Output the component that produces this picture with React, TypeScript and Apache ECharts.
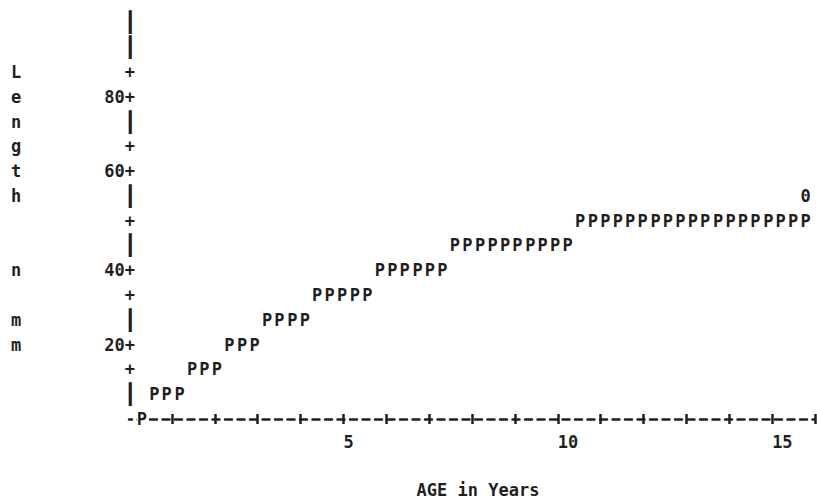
import { useEffect, useRef } from "react";
import * as echarts from "echarts";

// Printer-plot vertical resolution: one text row = 6.25 mm of length.
const ROW_MM = 6.25;

// Predicted length (mm) at age (years), one "P" per print column.
const ages = [
  0.3, 0.59, 0.88, 1.18, 1.47, 1.76, 2.05, 2.34, 2.64, 2.93, 3.22, 3.51, 3.81, 4.1,
  4.39, 4.68, 4.97, 5.27, 5.56, 5.85, 6.14, 6.43, 6.73, 7.02, 7.31, 7.6, 7.89, 8.19,
  8.48, 8.77, 9.06, 9.36, 9.65, 9.94, 10.23, 10.52, 10.82, 11.11, 11.4, 11.69, 11.98,
  12.28, 12.57, 12.86, 13.15, 13.44, 13.74, 14.03, 14.32, 14.61, 14.91, 15.2, 15.49,
  15.78,
];
const lengths = [
  0,
  6.25, 6.25, 6.25,
  12.5, 12.5, 12.5,
  18.75, 18.75, 18.75,
  25, 25, 25, 25,
  31.25, 31.25, 31.25, 31.25, 31.25,
  37.5, 37.5, 37.5, 37.5, 37.5, 37.5,
  43.75, 43.75, 43.75, 43.75, 43.75, 43.75, 43.75, 43.75, 43.75, 43.75,
  50, 50, 50, 50, 50, 50, 50, 50, 50, 50, 50, 50, 50, 50, 50, 50, 50, 50, 50,
];

// Observed value plotted with "0".
const obsAges = [15.78];
const obsLengths = [56.25];

// Axis ticks and labels.
const xTickValues = [1, 2, 3, 4, 5, 6, 7, 8, 9, 10, 11, 12, 13, 14, 15, 16];
const xLabelValues = [5, 10, 15];
const yTickValues = [10, 20, 30, 40, 50, 60, 70, 80, 90];
const yLabelValues = [20, 40, 60, 80];
const Y_TOP_ROW = 16;

// Vertical axis title, one character per row from the top row down.
const yTitleChars = ["L", "e", "n", "g", "t", "h", "", "", "n", "", "m", "m"];
const Y_TITLE_TOP_ROW = 14;

const X_TITLE = "AGE in Years";

const FONT = "'DejaVu Sans Mono', 'Liberation Mono', monospace";
const INK = "#1f1f1f";

export default function App() {
  const ref = useRef<HTMLDivElement>(null);

  useEffect(() => {
    if (!ref.current) return;
    const chart = echarts.init(ref.current, null, { renderer: "svg" });

    const base = { fontFamily: FONT, fontWeight: "bold" as const, fontSize: 17, color: INK };
    const toRow = (v: number) => v / ROW_MM;
    const plusRows = new Set(yTickValues.map((v) => Math.round(toRow(v))));
    const labelByRow = new Map(yLabelValues.map((v) => [Math.round(toRow(v)), String(v)]));
    const titleByRow = new Map(yTitleChars.map((c, i) => [Y_TITLE_TOP_ROW - i, c]));
    const yMax = (Y_TOP_ROW + 0.5) * ROW_MM;

    const rowIndex = (v: number) => {
      const r = toRow(v);
      return Math.abs(r - Math.round(r)) < 0.01 ? Math.round(r) : -1;
    };

    // Printer-style vertical axis: bar rows, "+" tick rows, "nn+" labelled rows.
    const yAxisText = (v: number) => {
      const r = rowIndex(v);
      if (r <= 0) return "";
      if (labelByRow.has(r)) return `{t|${labelByRow.get(r)}+}`;
      if (plusRows.has(r)) return "{t|+}";
      return "{bar|┃}";
    };

    const tickLine = { color: INK, width: 2.5 };
    const glyphLabel = {
      show: true,
      position: "inside" as const,
      ...base,
      opacity: 1,
      textBorderWidth: 0,
    };

    chart.setOption({
      animation: false,
      backgroundColor: "#ffffff",
      grid: { left: 129, right: 2, top: 10, bottom: 84 },
      xAxis: [
        {
          type: "value",
          min: 0,
          max: 16,
          position: "bottom",
          axisLine: {
            show: true,
            lineStyle: { color: INK, width: 2.5, type: [7, 5.5], dashOffset: 3.5 },
          },
          axisTick: { show: true, customValues: xTickValues, length: 5, lineStyle: tickLine },
          axisLabel: { customValues: xLabelValues, align: "left", margin: 14, ...base },
          splitLine: { show: false },
          name: X_TITLE,
          nameLocation: "middle",
          nameGap: 62,
          nameTextStyle: { ...base, padding: [0, 0, 0, 12] },
        },
        {
          type: "value",
          min: 0,
          max: 16,
          position: "bottom",
          axisLine: { show: false },
          axisTick: {
            show: true,
            inside: true,
            customValues: xTickValues,
            length: 5,
            lineStyle: tickLine,
          },
          axisLabel: { show: false },
          splitLine: { show: false },
        },
      ],
      yAxis: [
        {
          type: "value",
          min: 0,
          max: yMax,
          interval: ROW_MM,
          axisLine: { show: false },
          axisTick: { show: false },
          splitLine: { show: false },
          axisLabel: {
            margin: -9,
            align: "right",
            formatter: yAxisText,
            ...base,
            rich: {
              t: { ...base, lineHeight: 20, padding: [0, 3, 0, 0] },
              bar: {
                fontFamily: FONT,
                fontWeight: "normal",
                fontSize: 20,
                lineHeight: 20,
                color: INK,
                padding: [0, 2, 0, 0],
              },
            },
          },
        },
        {
          type: "value",
          min: 0,
          max: yMax,
          interval: ROW_MM,
          position: "left",
          offset: 113,
          axisLine: { show: false },
          axisTick: { show: false },
          splitLine: { show: false },
          axisLabel: {
            margin: 0,
            align: "center",
            formatter: (v: number) => titleByRow.get(rowIndex(v)) ?? "",
            ...base,
          },
        },
      ],
      series: [
        {
          name: "Predicted",
          type: "scatter",
          xAxisIndex: 0,
          yAxisIndex: 0,
          data: ages.map((a, i) => [a, lengths[i]]),
          symbol: "circle",
          symbolSize: 2,
          itemStyle: { color: "rgba(0,0,0,0)", opacity: 1 },
          silent: true,
          label: { ...glyphLabel, formatter: "P", backgroundColor: "#ffffff" },
        },
        {
          name: "Observed",
          type: "scatter",
          xAxisIndex: 0,
          yAxisIndex: 0,
          data: obsAges.map((a, i) => [a, obsLengths[i]]),
          symbol: "circle",
          symbolSize: 2,
          itemStyle: { color: "rgba(0,0,0,0)", opacity: 1 },
          silent: true,
          label: { ...glyphLabel, formatter: "0" },
        },
      ],
    });

    return () => chart.dispose();
  }, []);

  return (
    <div
      ref={ref}
      style={{ position: "fixed", left: 0, top: 0, width: 817, height: 503, background: "#fff" }}
    />
  );
}
